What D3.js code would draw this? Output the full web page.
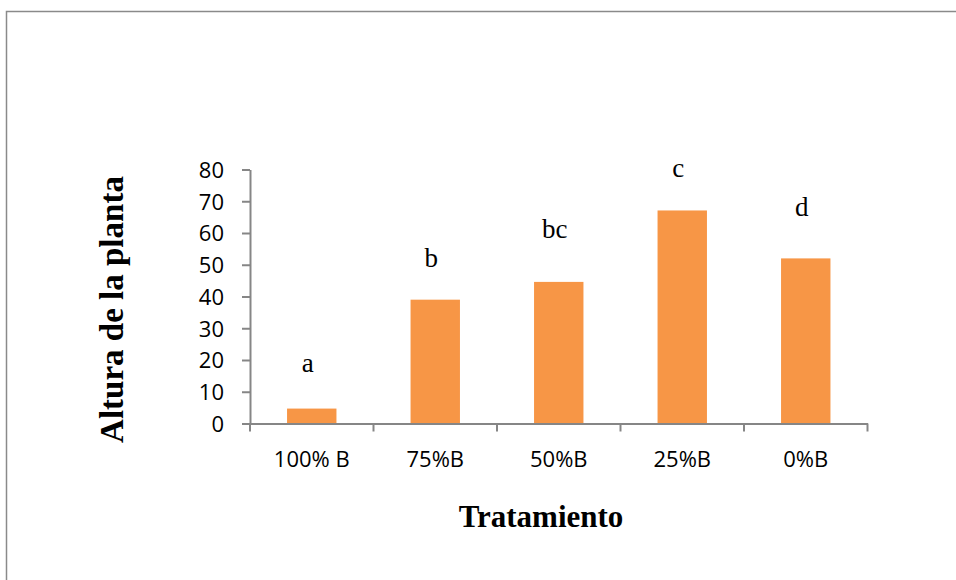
<!DOCTYPE html>
<html>
<head>
<meta charset="utf-8">
<script src="https://cdn.jsdelivr.net/npm/d3@7"></script>
<style>
  html, body { margin: 0; padding: 0; background: #fff; }
  svg { display: block; }
</style>
</head>
<body>
<svg id="chart" width="956" height="580"></svg>
<script>
const categories = ["100% B", "75%B", "50%B", "25%B", "0%B"];
const values = [4.7, 39.0, 44.6, 67.1, 52.0];
const letters = ["a", "b", "bc", "c", "d"];
const letterLevels = [16.3, 49.2, 58.3, 77.5, 65.3];
const yTicks = [0, 10, 20, 30, 40, 50, 60, 70, 80];
const yTitle = "Altura de la planta";
const xTitle = "Tratamiento";

(function () {
const svg = d3.select("#chart");
const axisColor = "#868686";
const barColor = "#F79646";

// outer frame
svg.append("rect")
  .attr("x", 6.5).attr("y", 11.5)
  .attr("width", 1000).attr("height", 700)
  .attr("fill", "none").attr("stroke", "#8a8a8a").attr("stroke-width", 1.5);

const pLeft = 250, pRight = 867.5, pTop = 169.5, pBottom = 423.5;

const x = d3.scaleBand().domain(categories).range([pLeft, pRight])
  .paddingInner(0.6).paddingOuter(0.3);
const y = d3.scaleLinear().domain([0, 80]).range([pBottom, pTop]);

// bars
svg.append("g").selectAll("rect").data(values).join("rect")
  .attr("x", (d, i) => x(categories[i]))
  .attr("y", d => y(d))
  .attr("width", x.bandwidth())
  .attr("height", d => y(0) - y(d))
  .attr("fill", barColor);

// y axis
const yAxis = svg.append("g").attr("transform", `translate(${pLeft},0)`)
  .call(d3.axisLeft(y).tickValues(yTicks).tickSize(8).tickSizeOuter(0).tickPadding(18));
yAxis.select(".domain").attr("stroke", axisColor).attr("stroke-width", 2);
yAxis.selectAll(".tick line").attr("stroke", axisColor).attr("stroke-width", 2);
yAxis.selectAll(".tick text")
  .attr("font-family", "'Open Sans', sans-serif")
  .attr("font-size", 22).attr("fill", "#000").attr("dy", "0.36em");

// x axis
const xAxis = svg.append("g").attr("transform", `translate(0,${pBottom})`)
  .call(d3.axisBottom(x).tickSize(0).tickSizeOuter(0).tickPadding(28));
xAxis.select(".domain").attr("stroke", axisColor).attr("stroke-width", 2);
xAxis.selectAll(".tick text")
  .attr("font-family", "'Open Sans', sans-serif")
  .attr("font-size", 22).attr("fill", "#000");

// boundary ticks on x axis
const boundaries = d3.range(categories.length + 1).map(i => pLeft + i * x.step());
svg.append("g").selectAll("line").data(boundaries).join("line")
  .attr("x1", d => d).attr("x2", d => d)
  .attr("y1", pBottom).attr("y2", pBottom + 8)
  .attr("stroke", axisColor).attr("stroke-width", 2);

// significance letters
svg.append("g").selectAll("text").data(letters).join("text")
  .attr("x", (d, i) => x(categories[i]) + x.bandwidth() / 2 - 4)
  .attr("y", (d, i) => y(letterLevels[i]))
  .attr("text-anchor", "middle")
  .attr("font-family", "'Liberation Serif', 'Times New Roman', serif")
  .attr("font-size", 27).attr("fill", "#000")
  .text(d => d);

// axis titles
svg.append("text")
  .attr("transform", `translate(123,${(pTop + pBottom) / 2 + 13}) rotate(-90)`)
  .attr("text-anchor", "middle")
  .attr("font-family", "'Liberation Serif', 'Times New Roman', serif")
  .attr("font-weight", "bold").attr("font-size", 33).attr("fill", "#000")
  .text(yTitle);

svg.append("text")
  .attr("x", 541).attr("y", 527)
  .attr("text-anchor", "middle")
  .attr("font-family", "'Liberation Serif', 'Times New Roman', serif")
  .attr("font-weight", "bold").attr("font-size", 31).attr("fill", "#000")
  .text(xTitle);
})();
</script>
</body>
</html>
